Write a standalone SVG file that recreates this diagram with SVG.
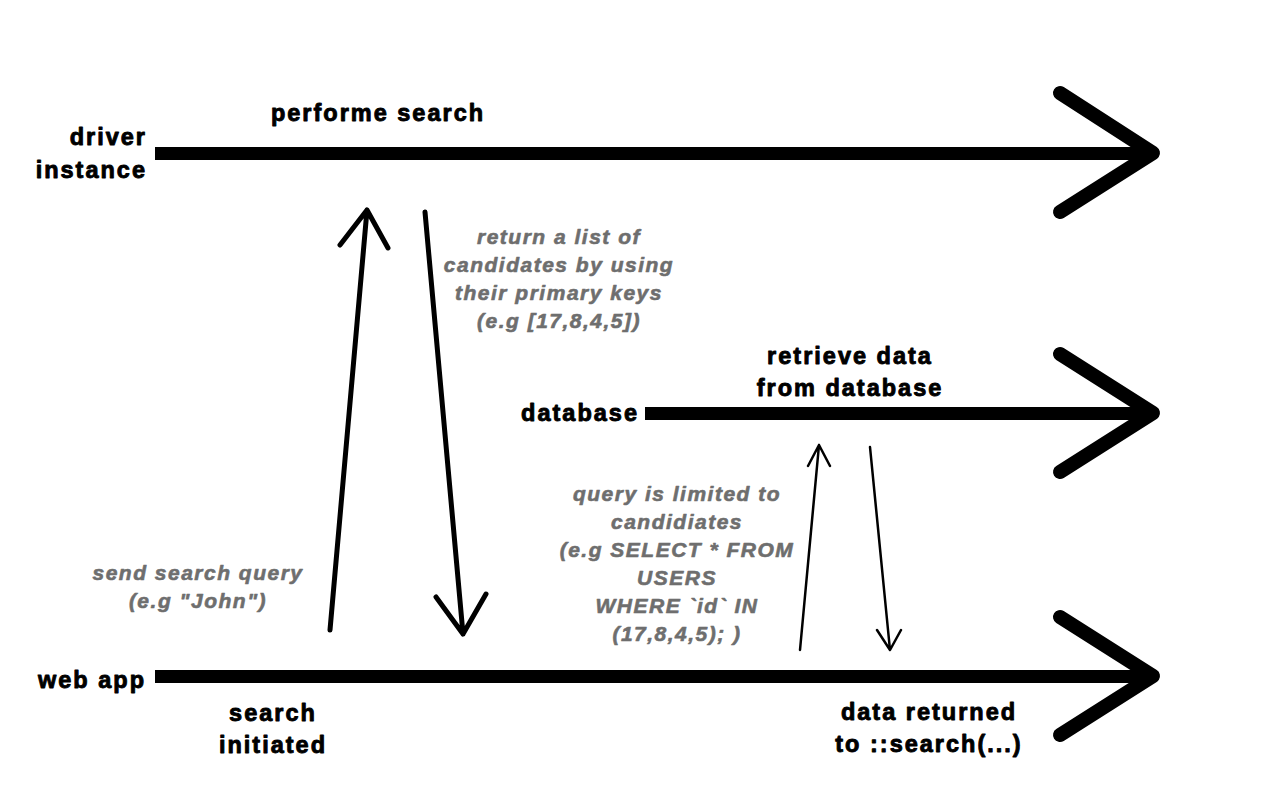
<svg xmlns="http://www.w3.org/2000/svg" width="1280" height="800" viewBox="0 0 1280 800">
<style>
.lbl{font-family:"Liberation Sans",Arial,sans-serif;font-weight:bold;font-size:23.5px;letter-spacing:2px;fill:#000;stroke:#000;stroke-width:0.9px;stroke-linejoin:round}
.note{font-family:"Liberation Sans",Arial,sans-serif;font-weight:bold;font-style:italic;font-size:21px;letter-spacing:1.5px;fill:#6e6e6e;stroke:#6e6e6e;stroke-width:0.6px;stroke-linejoin:round;text-anchor:middle}
.bar{fill:#000}
.head{fill:none;stroke:#000;stroke-width:14;stroke-linecap:round;stroke-linejoin:round}
.msg{fill:none;stroke:#000;stroke-linecap:round;stroke-linejoin:round}
</style>
<rect width="1280" height="800" fill="#fff"/>
<g id="driver">
<rect class="bar" x="155" y="147" width="990" height="13"/>
<polyline class="head" points="1060,93 1153,153 1060,212"/>
<text class="lbl" x="147" y="145" text-anchor="end">driver</text>
<text class="lbl" x="147" y="178" text-anchor="end">instance</text>
<text class="lbl" x="378" y="121" text-anchor="middle">performe search</text>
</g>
<g id="database">
<rect class="bar" x="645" y="407" width="500" height="13"/>
<polyline class="head" points="1060,354 1153,413 1060,472"/>
<text class="lbl" x="639" y="421" text-anchor="end">database</text>
<text class="lbl" x="850" y="364" text-anchor="middle">retrieve data</text>
<text class="lbl" x="850" y="396" text-anchor="middle">from database</text>
</g>
<g id="webapp">
<rect class="bar" x="155" y="670" width="990" height="13"/>
<polyline class="head" points="1060,617 1153,676 1060,735"/>
<text class="lbl" x="146" y="688" text-anchor="end">web app</text>
<text class="lbl" x="273" y="721" text-anchor="middle">search</text>
<text class="lbl" x="273" y="753" text-anchor="middle">initiated</text>
<text class="lbl" x="929" y="720" text-anchor="middle">data returned</text>
<text class="lbl" x="929" y="752" text-anchor="middle">to ::search(...)</text>
</g>
<g id="connectors">
<path class="msg" stroke-width="5" d="M330,630 L367,210 M340,245 L367,210 L388,248"/>
<path class="msg" stroke-width="5" d="M425,212 L463,634 M436,597 L463,634 L486,594"/>
<path class="msg" stroke-width="2.5" d="M800,650 L819,445 M808,466 L819,445 L830,466"/>
<path class="msg" stroke-width="2.5" d="M870,447 L890,650 M877,630 L890,650 L901,630"/>
</g>
<g id="notes">
<text class="note" x="559" y="244">return a list of</text>
<text class="note" x="559" y="272">candidates by using</text>
<text class="note" x="559" y="300">their primary keys</text>
<text class="note" x="559" y="328">(e.g [17,8,4,5])</text>
<text class="note" x="198" y="580">send search query</text>
<text class="note" x="198" y="608">(e.g "John")</text>
<text class="note" x="677" y="501">query is limited to</text>
<text class="note" x="677" y="529">candidiates</text>
<text class="note" x="677" y="557">(e.g SELECT * FROM</text>
<text class="note" x="677" y="585">USERS</text>
<text class="note" x="677" y="613">WHERE `id` IN</text>
<text class="note" x="677" y="641">(17,8,4,5); )</text>
</g>
</svg>
